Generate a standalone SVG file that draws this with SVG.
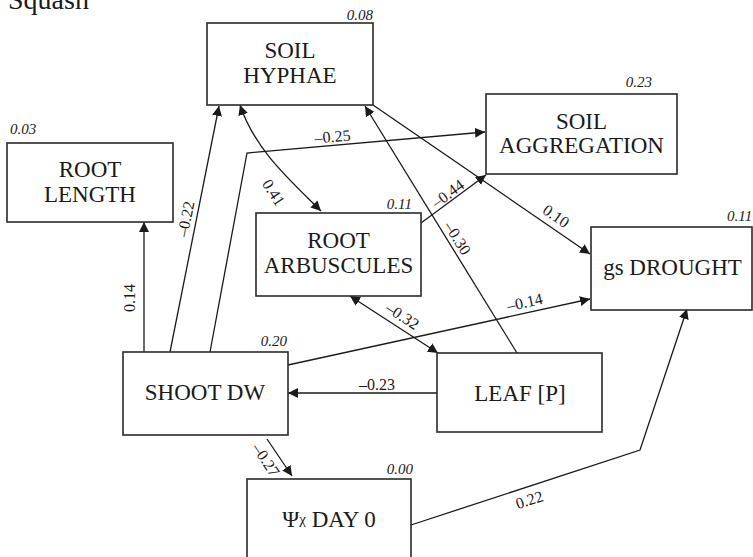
<svg xmlns="http://www.w3.org/2000/svg" width="753" height="557" viewBox="0 0 753 557" font-family="Liberation Serif, serif">
<defs>
<marker id="ah" markerUnits="userSpaceOnUse" markerWidth="11" markerHeight="11" refX="10" refY="5" orient="auto-start-reverse">
<path d="M0,0 L10,5 L0,10 z" fill="#1a1a1a"/>
</marker>
<style>
rect.box{fill:#fff;stroke:#2a2a2a;stroke-width:1.6}
text{fill:#1a1a1a}
.nl{font-size:23px;text-anchor:middle}
.r2{font-size:15px;font-style:italic}
.el{font-size:16px;text-anchor:middle}
.c{fill:none;stroke:#1a1a1a;stroke-width:1.3}
.a{marker-end:url(#ah)}
.b{marker-start:url(#ah);marker-end:url(#ah)}
</style>
</defs>
<rect width="753" height="557" fill="#fff"/>
<text x="8" y="9" style="font-size:28px">Squash</text>
<g id="connectors">
<path class="c a" d="M144,352 L144,222"/>
<path class="c a" d="M170,352 L219,106"/>
<path class="c a" d="M210,352 L247,153 L485,132"/>
<path class="c b" d="M240,105 C255,150 290,180 321,211"/>
<path class="c a" d="M517,353 L365,106"/>
<path class="c a" d="M373,105 L590,254"/>
<path class="c a" d="M421,223 L486,175"/>
<path class="c a" d="M288,365 L590,299"/>
<path class="c b" d="M350,296 L438,353"/>
<path class="c a" d="M437,393 L288,393"/>
<path class="c a" d="M267,439 L292,476"/>
<path class="c a" d="M411,525 L640,450 L687,309"/>
<text class="el" transform="translate(135,298) rotate(-90)">0.14</text>
<text class="el" transform="translate(191,220) rotate(-79)">–0.22</text>
<text class="el" transform="translate(333,142) rotate(-5)">–0.25</text>
<text class="el" transform="translate(269,195.5) rotate(57)">0.41</text>
<text class="el" transform="translate(453,241) rotate(58)">–0.30</text>
<text class="el" transform="translate(553,220.5) rotate(35)">0.10</text>
<text class="el" transform="translate(451,198) rotate(-36)">–0.44</text>
<text class="el" transform="translate(526,307.5) rotate(-12.3)">–0.14</text>
<text class="el" transform="translate(399.5,320.5) rotate(33)">–0.32</text>
<text class="el" x="377" y="390">–0.23</text>
<text class="el" transform="translate(261.5,463) rotate(56)">–0.27</text>
<text class="el" transform="translate(531,505) rotate(-18)">0.22</text>
</g>
<g id="soil-hyphae">
<rect class="box" x="207" y="23" width="166" height="82"/>
<text class="nl" x="290" y="58">SOIL</text>
<text class="nl" x="290" y="83">HYPHAE</text>
<text class="r2" x="373" y="20" text-anchor="end">0.08</text>
</g>
<g id="soil-aggregation">
<rect class="box" x="486" y="94" width="191" height="80"/>
<text class="nl" x="581.5" y="129">SOIL</text>
<text class="nl" x="581.5" y="153">AGGREGATION</text>
<text class="r2" x="652" y="87" text-anchor="end">0.23</text>
</g>
<g id="root-length">
<rect class="box" x="7" y="143" width="166" height="79"/>
<text class="nl" x="90" y="177">ROOT</text>
<text class="nl" x="90" y="202">LENGTH</text>
<text class="r2" x="10" y="134">0.03</text>
</g>
<g id="root-arbuscules">
<rect class="box" x="256" y="213" width="165" height="83"/>
<text class="nl" x="338.5" y="248">ROOT</text>
<text class="nl" x="338.5" y="273">ARBUSCULES</text>
<text class="r2" x="412" y="209" text-anchor="end">0.11</text>
</g>
<g id="gs-drought">
<rect class="box" x="591" y="227" width="161" height="83"/>
<text class="nl" x="672.5" y="275">gs DROUGHT</text>
<text class="r2" x="727" y="221">0.11</text>
</g>
<g id="shoot-dw">
<rect class="box" x="123" y="352" width="165" height="83"/>
<text class="nl" x="205" y="400">SHOOT DW</text>
<text class="r2" x="287" y="346" text-anchor="end">0.20</text>
</g>
<g id="leaf-p">
<rect class="box" x="437" y="353" width="165" height="79"/>
<text class="nl" x="520" y="401">LEAF [P]</text>
</g>
<g id="psi-day0">
<rect class="box" x="247" y="479" width="164" height="95"/>
<text class="nl" x="329" y="527">Ψ<tspan style="font-size:15px" dy="-3">χ</tspan><tspan dy="3"> DAY 0</tspan></text>
<text class="r2" x="413" y="474" text-anchor="end">0.00</text>
</g>
</svg>
